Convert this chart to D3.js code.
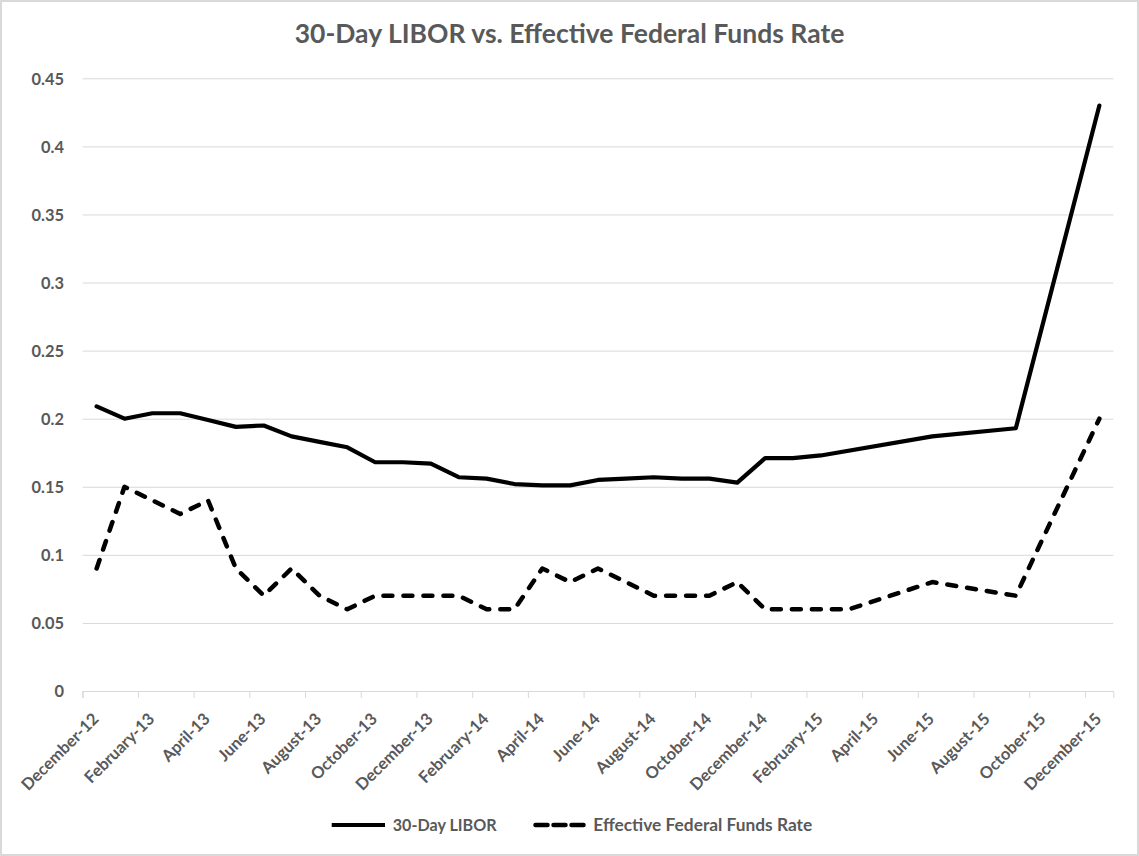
<!DOCTYPE html>
<html>
<head>
<meta charset="utf-8">
<script src="https://cdn.jsdelivr.net/npm/d3@7"></script>
<style>
  html, body { margin: 0; padding: 0; background: #fff; }
  svg { display: block; }
  text { font-family: Lato, "Open Sans", sans-serif; fill: #595959; }
</style>
</head>
<body>
<svg id="chart" width="1139" height="856"></svg>
<script>
// ---------------- data ----------------
const months = [
  "December-12","January-13","February-13","March-13","April-13","May-13","June-13",
  "July-13","August-13","September-13","October-13","November-13","December-13",
  "January-14","February-14","March-14","April-14","May-14","June-14","July-14",
  "August-14","September-14","October-14","November-14","December-14",
  "January-15","February-15","March-15","April-15","May-15","June-15","July-15",
  "August-15","September-15","October-15","November-15","December-15"
];
const libor = [
  0.209, 0.200, 0.204, 0.204, 0.199, 0.194, 0.195, 0.187, 0.183, 0.179, 0.168, 0.168, 0.167,
  0.157, 0.156, 0.152, 0.151, 0.151, 0.155, 0.156, 0.157, 0.156, 0.156, 0.153, 0.171,
  0.171, 0.173, null, null, null, 0.187, null, null, 0.193, null, null, 0.430
];
const effr = [
  0.09, 0.15, 0.14, 0.13, 0.14, 0.09, 0.07, 0.09, 0.07, 0.06, 0.07, 0.07, 0.07,
  0.07, 0.06, 0.06, 0.09, 0.08, 0.09, 0.08, 0.07, 0.07, 0.07, 0.08, 0.06,
  0.06, 0.06, 0.06, null, null, 0.08, null, null, 0.07, null, null, 0.20
];
const yTicks = [0, 0.05, 0.1, 0.15, 0.2, 0.25, 0.3, 0.35, 0.4, 0.45];
const yTickLabels = ["0", "0.05", "0.1", "0.15", "0.2", "0.25", "0.3", "0.35", "0.4", "0.45"];
const seriesNames = ["30-Day LIBOR", "Effective Federal Funds Rate"];
const title = "30-Day LIBOR vs. Effective Federal Funds Rate";

// ---------------- layout ----------------
const W = 1139, H = 856;
const plot = { left: 82.7, right: 1113.3, top: 78.3, bottom: 691 };
const grey = "#595959", gridCol = "#d9d9d9";

const svg = d3.select("#chart");

// helper to fit a text element's font-size to a target width
function fit(sel, target) {
  const node = sel.node();
  const base = 20;
  sel.style("font-size", base + "px");
  const len = node.getComputedTextLength();
  const size = base * target / len;
  sel.style("font-size", size + "px");
  return size;
}

// outer border
svg.append("rect")
  .attr("x", 1).attr("y", 1).attr("width", W - 2).attr("height", H - 2)
  .attr("fill", "#fff").attr("stroke", gridCol).attr("stroke-width", 2);

// scales
const x = d3.scaleBand().domain(months).range([plot.left, plot.right]).padding(0);
const cx = m => x(m) + x.bandwidth() / 2;
const y = d3.scaleLinear().domain([0, 0.45]).range([plot.bottom, plot.top]);

// y axis + gridlines
const yAxis = d3.axisLeft(y)
  .tickValues(yTicks)
  .tickFormat((d, i) => yTickLabels[i])
  .tickSize(-(plot.right - plot.left))
  .tickPadding(18.7);
const gy = svg.append("g").attr("transform", `translate(${plot.left},0)`).call(yAxis);
gy.select(".domain").remove();
gy.selectAll(".tick line").attr("stroke", gridCol).attr("stroke-width", 1);
const yt = gy.selectAll(".tick text")
  .attr("fill", grey).style("font-weight", 700)
  .attr("dy", "0.36em");
const ySize = fit(gy.selectAll(".tick text").filter((d, i) => i === yTicks.length - 1), 32.5);
yt.style("font-size", ySize + "px");

// x axis
const labelMonths = months.filter((m, i) => i % 2 === 0);
const xAxis = d3.axisBottom(x).tickValues(labelMonths).tickSizeOuter(0).tickSize(7);
const gx = svg.append("g").attr("transform", `translate(0,${plot.bottom})`).call(xAxis);
gx.select(".domain").attr("stroke", gridCol).attr("stroke-width", 1);
gx.selectAll(".tick line")
  .attr("stroke", gridCol)
  .attr("transform", `translate(${-x.bandwidth() / 2},0)`);
const xt = gx.selectAll(".tick text")
  .attr("fill", grey).style("font-weight", 700)
  .attr("x", 0).attr("y", 0).attr("dy", "0.35em")
  .attr("text-anchor", "end")
  .attr("transform", "translate(-1,25) rotate(-45)");
// size x labels so "December-12" matches the reference length
const xSize = fit(gx.select(".tick text"), 101);
xt.style("font-size", xSize + "px");

// lines
const line = d3.line()
  .x(d => cx(d.m))
  .y(d => y(d.v));
const mk = arr => months.map((m, i) => ({ m, v: arr[i] })).filter(d => d.v !== null);

svg.append("path")
  .datum(mk(libor))
  .attr("fill", "none").attr("stroke", "#000").attr("stroke-width", 4.2)
  .attr("stroke-linejoin", "round").attr("stroke-linecap", "round")
  .attr("d", line);

svg.append("path")
  .datum(mk(effr))
  .attr("fill", "none").attr("stroke", "#000").attr("stroke-width", 4.5)
  .attr("stroke-linejoin", "round").attr("stroke-linecap", "round")
  .attr("stroke-dasharray", "9,11")
  .attr("d", line);

// title
const t = svg.append("text")
  .attr("x", 569.5).attr("y", 43.3)
  .attr("text-anchor", "middle")
  .style("font-weight", 700)
  .text(title);
fit(t, 550);

// legend
const legY = 825;
svg.append("line").attr("x1", 331.7).attr("x2", 385).attr("y1", legY).attr("y2", legY)
  .attr("stroke", "#000").attr("stroke-width", 4.2);
const l1 = svg.append("text").attr("x", 392.7).attr("y", legY).attr("dy", "0.36em")
  .style("font-weight", 700).text(seriesNames[0]);
fit(l1, 104);
svg.append("line").attr("x1", 535.5).attr("x2", 584.5).attr("y1", legY).attr("y2", legY)
  .attr("stroke", "#000").attr("stroke-width", 4.5)
  .attr("stroke-linecap", "round").attr("stroke-dasharray", "12,6");
const l2 = svg.append("text").attr("x", 593.3).attr("y", legY).attr("dy", "0.36em")
  .style("font-weight", 700).text(seriesNames[1]);
fit(l2, 219);
</script>
</body>
</html>
